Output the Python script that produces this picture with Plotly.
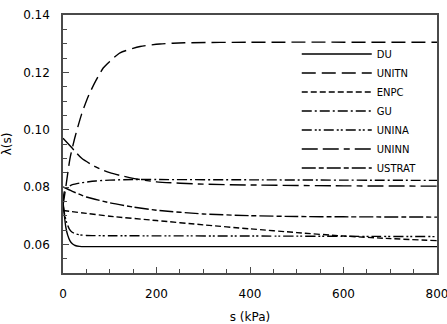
import plotly.graph_objects as go

# ---- data ----
du_s = [0, 3, 6, 10, 15, 20, 26, 35, 50, 100, 300, 800]
du_v = [0.075, 0.0700, 0.0660, 0.0632, 0.0612, 0.0602, 0.0596, 0.0593, 0.0592, 0.0592, 0.0592, 0.0592]

unitn_s = [0, 6, 15, 25, 40, 55, 70, 86, 100, 122, 165, 207, 260, 400, 800]
unitn_v = [0.0735, 0.0800, 0.0900, 0.0970, 0.1055, 0.1120, 0.1170, 0.1215, 0.1238, 0.1268, 0.1290, 0.1299, 0.1303, 0.1305, 0.1305]

enpc_s = [0, 50, 100, 200, 300, 400, 500, 600, 700, 800]
enpc_v = [0.0718, 0.0708, 0.0698, 0.0683, 0.0668, 0.0654, 0.0641, 0.0629, 0.0620, 0.0613]

gu_s = [0, 3, 8, 20, 40, 70, 100, 150, 200, 400, 800]
gu_v = [0.0750, 0.0785, 0.0798, 0.0808, 0.0815, 0.0821, 0.0824, 0.0826, 0.0826, 0.0825, 0.0823]

unina_s = [0, 4, 8, 13, 19, 28, 36, 50, 100, 400, 800]
unina_v = [0.0740, 0.0700, 0.0675, 0.0655, 0.0643, 0.0636, 0.0633, 0.0631, 0.0630, 0.0629, 0.0627]

uninn_s = [0, 20, 40, 70, 100, 150, 200, 300, 400, 600, 800]
uninn_v = [0.0970, 0.0935, 0.0900, 0.0870, 0.0850, 0.0830, 0.0818, 0.0810, 0.0807, 0.0804, 0.0803]

ustrat_s = [0, 20, 50, 100, 150, 200, 300, 400, 500, 600, 800]
ustrat_v = [0.0800, 0.0785, 0.0765, 0.0745, 0.0730, 0.0719, 0.0706, 0.0700, 0.0697, 0.0696, 0.0695]

names = ["DU", "UNITN", "ENPC", "GU", "UNINA", "UNINN", "USTRAT"]
series = [(du_s, du_v), (unitn_s, unitn_v), (enpc_s, enpc_v), (gu_s, gu_v),
          (unina_s, unina_v), (uninn_s, uninn_v), (ustrat_s, ustrat_v)]
dashes = ["solid", "14px,6px", "6px,3px", "10px,3px,2px,3px",
          "10px,3px,2px,2px,2px,3px", "16px,5px,16px,5px,6px,5px", "14px,3px,5px,3px"]

fig = go.Figure()
for name, (s, v), d in zip(names, series, dashes):
    fig.add_trace(go.Scatter(x=s, y=v, name=name, mode="lines",
                             line=dict(color="black", width=1.4, dash=d, shape="spline", smoothing=0.6)))

axis_col = "#4a4a4a"
fig.update_layout(
    width=447, height=324,
    margin=dict(l=63, r=10, t=15, b=51, autoexpand=False),
    paper_bgcolor="white", plot_bgcolor="white",
    font=dict(family="DejaVu Sans", size=12, color="black"),
    showlegend=True,
    legend=dict(x=0.625, y=0.905, xanchor="left", yanchor="top",
                bgcolor="rgba(0,0,0,0)", font=dict(size=10), itemwidth=70,
                tracegroupgap=0),
    xaxis=dict(range=[0, 800], dtick=200, tick0=0, showgrid=False, zeroline=False,
               automargin=False, ticklabeloverflow="allow",
               showline=True, linecolor=axis_col, linewidth=1.5, mirror=True,
               ticks="inside", ticklen=6, tickcolor=axis_col, ticklabelstandoff=9,
               minor=dict(dtick=50, ticks="inside", ticklen=4, tickcolor=axis_col),
               title=dict(text="s (kPa)", standoff=20, font=dict(size=12))),
    yaxis=dict(range=[0.05, 0.14], dtick=0.02, tick0=0, tickformat=".2f",
               showgrid=False, zeroline=False, automargin=False,
               showline=True, linecolor=axis_col, linewidth=1.5, mirror=True,
               ticks="inside", ticklen=6, tickcolor=axis_col, ticklabelstandoff=9,
               minor=dict(dtick=0.005, ticks="inside", ticklen=4, tickcolor=axis_col),
               title=dict(text="λ(s)", standoff=12, font=dict(size=12))),
)

fig.write_html("out.html")
